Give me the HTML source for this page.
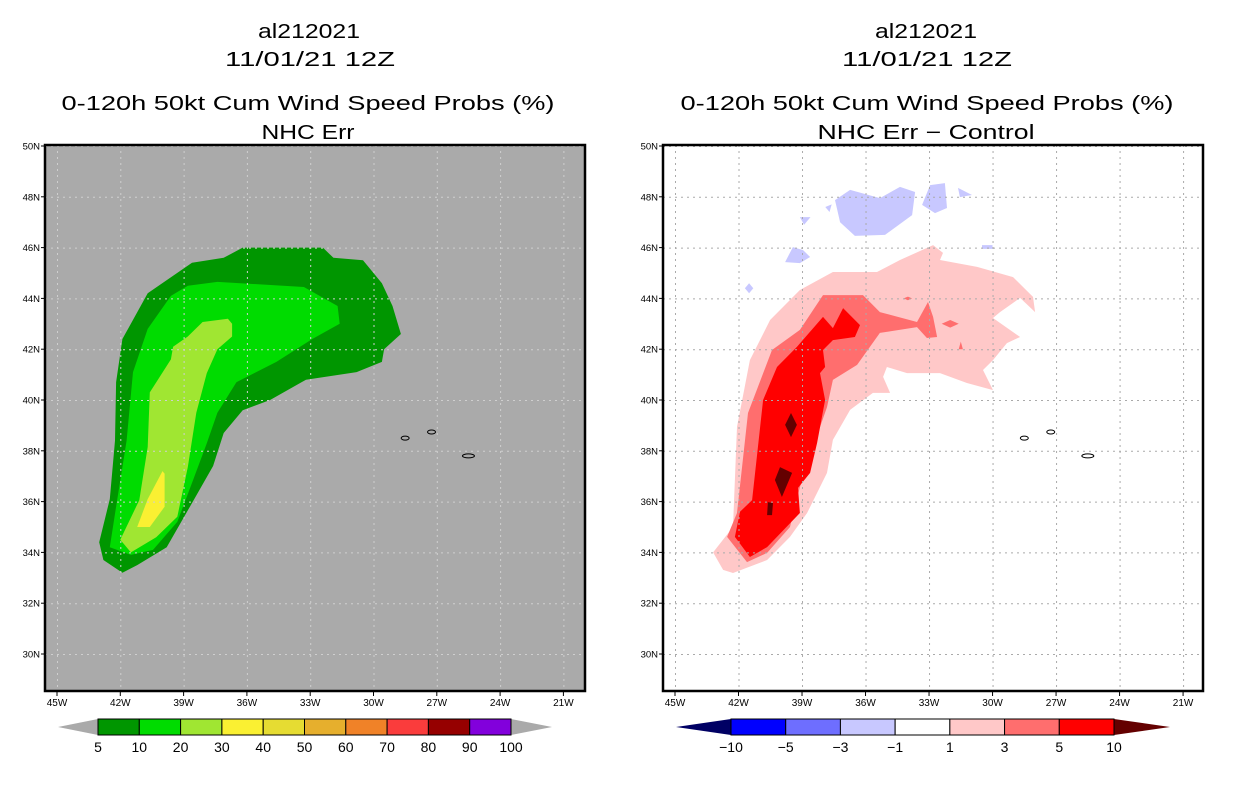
<!DOCTYPE html>
<html><head><meta charset="utf-8"><style>
html,body{margin:0;padding:0;background:#fff;}
svg{display:block;font-family:"Liberation Sans",sans-serif;}
</style></head><body>
<svg id="s" width="1236" height="800" viewBox="0 0 1236 800" xmlns="http://www.w3.org/2000/svg">
<rect width="1236" height="800" fill="#fff"/>
<g font-size="20" text-anchor="middle">
<text x="309" y="38" textLength="102" lengthAdjust="spacingAndGlyphs">al212021</text>
<text x="310" y="66" textLength="170" lengthAdjust="spacingAndGlyphs">11/01/21 12Z</text>
<text x="308" y="110" textLength="493" lengthAdjust="spacingAndGlyphs">0-120h 50kt Cum Wind Speed Probs (%)</text>
<text x="308" y="139" textLength="93" lengthAdjust="spacingAndGlyphs">NHC Err</text>
</g>
<g font-size="20" text-anchor="middle">
<text x="926" y="38" textLength="102" lengthAdjust="spacingAndGlyphs">al212021</text>
<text x="927" y="66" textLength="170" lengthAdjust="spacingAndGlyphs">11/01/21 12Z</text>
<text x="927" y="110" textLength="493" lengthAdjust="spacingAndGlyphs">0-120h 50kt Cum Wind Speed Probs (%)</text>
<text x="926" y="139" textLength="217" lengthAdjust="spacingAndGlyphs">NHC Err − Control</text>
</g>
<g id="L"></g>
<g id="R"></g>
<g id="CL"></g>
<g id="CR"></g>
</svg>
<script>
// ---- data ----
const lonTicks = [-45,-42,-39,-36,-33,-30,-27,-24,-21];
const latTicks = [30,32,34,36,38,40,42,44,46,48,50];
const lonTickLabels = ["45W","42W","39W","36W","33W","30W","27W","24W","21W"];
const latTickLabels = ["30N","32N","34N","36N","38N","40N","42N","44N","46N","48N","50N"];

const prob5 = [[-36.2,46.0],[-32.4,46.0],[-31.9,45.6],[-30.5,45.5],[-29.6,44.6],[-29.1,43.7],[-28.7,42.6],[-29.5,42.0],[-29.6,41.5],[-30.8,41.1],[-33.2,40.8],[-34.9,40.0],[-36.2,39.6],[-37.1,38.7],[-37.6,37.4],[-38.7,35.8],[-39.8,34.2],[-41.2,33.5],[-41.9,33.2],[-42.8,33.7],[-43.0,34.4],[-42.5,36.1],[-42.25,38.4],[-42.2,40.7],[-41.9,42.4],[-40.7,44.2],[-38.6,45.4],[-37.1,45.6]];
const prob10 = [[-37.4,44.65],[-33.3,44.45],[-31.7,43.7],[-31.6,43.0],[-32.9,42.4],[-34.6,41.5],[-36.5,40.7],[-37.4,39.5],[-37.9,38.3],[-38.55,36.85],[-39.3,35.2],[-40.45,34.1],[-41.5,33.9],[-42.5,34.2],[-42.2,35.8],[-41.7,38.4],[-41.4,41.1],[-40.7,42.8],[-39.6,44.1],[-38.8,44.5]];
const prob20 = [[-38.1,43.07],[-36.9,43.2],[-36.7,43.0],[-36.7,42.5],[-37.4,42.0],[-37.9,41.06],[-38.4,39.5],[-38.8,37.36],[-39.3,35.4],[-40.3,34.6],[-41.5,34.0],[-42.0,34.5],[-41.1,36.06],[-40.7,38.15],[-40.6,40.3],[-39.6,41.6],[-39.5,42.1],[-38.8,42.5]];
const prob30 = [[-40.0,37.2],[-39.9,37.1],[-39.9,35.8],[-40.6,35.0],[-41.2,35.0],[-40.7,36.1]];

const diffPos1 = [[-43.2,34.0],[-42.26,35.0],[-42.07,38.94],[-41.46,41.57],[-40.51,43.15],[-39.1,44.33],[-37.54,45.04],[-35.46,45.04],[-34.37,45.51],[-32.81,46.1],[-32.34,45.79],[-32.48,45.51],[-30.73,45.24],[-29.03,44.84],[-28.09,44.06],[-27.99,43.46],[-28.7,44.02],[-29.65,43.46],[-29.98,43.23],[-28.7,42.48],[-29.32,42.24],[-29.98,41.57],[-30.45,41.18],[-29.98,40.39],[-31.21,40.67],[-32.48,41.06],[-34.04,41.06],[-34.99,41.3],[-35.17,40.91],[-34.84,40.28],[-35.65,40.28],[-36.73,39.61],[-37.54,38.43],[-37.82,37.13],[-38.76,35.55],[-39.57,34.61],[-40.65,33.7],[-42.26,33.19],[-42.73,33.31]];
const diffPos3 = [[-42.54,34.61],[-42.07,35.55],[-41.55,39.49],[-40.42,41.97],[-39.1,42.76],[-38.01,44.13],[-36.12,44.13],[-35.32,43.46],[-33.57,43.07],[-33.05,43.86],[-32.81,43.27],[-32.62,42.48],[-33.1,42.44],[-33.57,42.87],[-35.32,42.64],[-36.4,41.38],[-37.54,40.79],[-37.82,39.72],[-38.48,38.15],[-39.1,36.57],[-39.57,35.0],[-40.65,33.98],[-41.6,33.62]];
const diffPos3b = [[-32.4,43.0],[-32.0,43.15],[-31.6,43.0],[-32.0,42.85]];
const diffPos3c = [[-34.2,44.0],[-34.0,44.07],[-33.8,44.0],[-34.0,43.93]];
const diffPos3d = [[-31.6,42.0],[-31.5,42.3],[-31.4,42.0]];
const diffPos5 = [[-42.17,34.61],[-41.93,35.6],[-41.36,36.06],[-40.84,40.0],[-40.18,41.3],[-39.24,42.09],[-38.01,43.27],[-37.54,42.83],[-37.06,43.62],[-36.26,42.95],[-36.5,42.48],[-37.54,42.36],[-38.01,41.97],[-37.91,41.3],[-38.15,41.06],[-37.91,40.0],[-38.29,38.31],[-38.62,37.13],[-39.19,36.54],[-39.1,35.55],[-40.65,34.21],[-41.46,33.82]];
const diffPos10a = [[-39.52,39.49],[-39.24,39.02],[-39.52,38.54],[-39.8,39.02]];
const diffPos10b = [[-40.04,37.36],[-39.47,37.13],[-39.95,36.18],[-40.28,36.85]];
const diffPos10c = [[-40.61,35.98],[-40.37,35.94],[-40.42,35.47],[-40.65,35.47]];
const diffNeg1a = [[-37.44,47.87],[-36.73,48.27],[-35.32,47.95],[-34.37,48.39],[-33.66,48.19],[-33.8,47.28],[-35.08,46.5],[-36.5,46.46],[-37.2,47.0]];
const diffNeg1b = [[-32.95,48.46],[-32.25,48.54],[-32.15,47.56],[-32.72,47.36],[-33.33,47.68]];
const diffNeg1c = [[-31.63,48.35],[-30.97,48.07],[-31.54,47.99]];
const diffNeg1d = [[-39.43,46.02],[-38.95,45.9],[-38.62,45.63],[-39.1,45.39],[-39.8,45.43]];
const diffNeg1e = [[-41.5,44.6],[-41.3,44.4],[-41.5,44.2],[-41.7,44.4]];
const diffNeg1f = [[-30.5,46.1],[-30.0,46.1],[-30.0,45.95],[-30.5,45.95]];
const diffNeg1g = [[-39.1,47.2],[-38.6,47.2],[-38.9,46.9]];
const diffNeg1h = [[-37.9,47.6],[-37.6,47.7],[-37.7,47.4]];

const islandLons = [-28.5,-27.25,-25.5];
const islandLats = [38.5,38.74,37.8];

const leftLevels = [5,10,20,30,40,50,60,70,80,90,100];
const leftColors = ["#009600","#00dc00","#a0e632","#faf032","#e6dc32","#e6af2d","#f08228","#fa3c3c","#960000","#8200dc"];
const rightLevels = [-10,-5,-3,-1,1,3,5,10];
const rightColors = ["#0000ff","#6e6eff","#c8c8ff","#ffffff","#ffc8c8","#ff6e6e","#ff0000"];

// ---- helpers ----
const NS="http://www.w3.org/2000/svg";
function mk(tag,parent,attrs){const e=document.createElementNS(NS,tag);for(const k in attrs)e.setAttribute(k,attrs[k]);parent.appendChild(e);return e;}
const FT=145, FB=691;
function makeProj(x0,lonRef,ppd){return {x:lon=>x0+(lon-lonRef)*ppd, y:lat=>146+(50-lat)*25.4};}
const PL = makeProj(57,-45,21.1);
const PR = makeProj(675,-45,21.17);
function ptsStr(P,arr){return arr.map(p=>P.x(p[0]).toFixed(1)+","+P.y(p[1]).toFixed(1)).join(" ");}
function poly(g,P,arr,fill,name){const e=mk('polygon',g,{points:ptsStr(P,arr),fill:fill});


return e;}

function panel(g,P,fx0,fx1,bg,gridCol,fills){
  const cid='clip'+g.id;
  const cp=mk('clipPath',g,{id:cid});mk('rect',cp,{x:fx0,y:FT,width:fx1-fx0,height:FB-FT});
  const bgr=mk('rect',g,{x:fx0,y:FT,width:fx1-fx0,height:FB-FT,fill:bg});
  
  
  const inner=mk('g',g,{'clip-path':'url(#'+cid+')'});
  fills(inner);
  const gg=mk('g',inner,{stroke:gridCol,'stroke-width':1,'stroke-dasharray':'2,4'});
  
  
  lonTicks.forEach(l=>{mk('line',gg,{x1:P.x(l)+.5,x2:P.x(l)+.5,y1:FT,y2:FB});});
  latTicks.forEach(l=>{mk('line',gg,{x1:fx0,x2:fx1,y1:P.y(l)+.5,y2:P.y(l)+.5});});
  islandLons.forEach((lo,i)=>{const e=mk('ellipse',inner,{cx:P.x(lo),cy:P.y(islandLats[i]),rx:i==2?6:4,ry:2,fill:'none',stroke:'#000','stroke-width':1});
    
    });
  const fr=mk('rect',g,{x:fx0,y:FT,width:fx1-fx0,height:FB-FT,fill:'none',stroke:'#000','stroke-width':2.5});
  
  
  lonTicks.forEach((l,i)=>{mk('line',g,{x1:P.x(l),x2:P.x(l),y1:FB,y2:FB+5,stroke:'#000'});
    const t=mk('text',g,{x:P.x(l),y:FB+15,'font-size':10,'text-anchor':'middle'});t.textContent=lonTickLabels[i];
    
    });
  latTicks.forEach((l,i)=>{mk('line',g,{x1:fx0-4,x2:fx0,y1:P.y(l),y2:P.y(l),stroke:'#000'});
    const t=mk('text',g,{x:fx0-5,y:P.y(l)+3.5,'font-size':9.5,'text-anchor':'end'});t.textContent=latTickLabels[i];
    
    });
}

panel(document.getElementById('L'),PL,45,585,'#aaaaaa','#cfcfcf',g=>{
  poly(g,PL,prob5,leftColors[0],'prob-5-10-contour');
  poly(g,PL,prob10,leftColors[1],'prob-10-20-contour');
  poly(g,PL,prob20,leftColors[2],'prob-20-30-contour');
  poly(g,PL,prob30,leftColors[3],'prob-30-40-contour');
});
panel(document.getElementById('R'),PR,663,1203,'#ffffff','#aaaaaa',g=>{
  poly(g,PR,diffPos1,rightColors[4],'diff-1-3-contour');
  [diffPos3,diffPos3b,diffPos3c,diffPos3d].forEach(a=>poly(g,PR,a,rightColors[5],'diff-3-5-contour'));
  poly(g,PR,diffPos5,rightColors[6],'diff-5-10-contour');
  [diffPos10a,diffPos10b,diffPos10c].forEach(a=>poly(g,PR,a,'#640000','diff-over-10-contour'));
  [diffNeg1a,diffNeg1b,diffNeg1c,diffNeg1d,diffNeg1e,diffNeg1f,diffNeg1g,diffNeg1h].forEach(a=>poly(g,PR,a,rightColors[2],'diff-neg-1-3-contour'));
});

function colorbar(g,levels,colors,x0,x1,tipL,tipR,lowCol,highCol){
  const n=colors.length, w=(x1-x0)/n, yT=719, yB=735, ym=727;
  const tl=mk('polygon',g,{points:`${tipL},${ym} ${x0},${yT} ${x0},${yB}`,fill:lowCol});
  
  
  const tr=mk('polygon',g,{points:`${tipR},${ym} ${x1},${yT} ${x1},${yB}`,fill:highCol});
  
  
  colors.forEach((c,i)=>{const r=mk('rect',g,{x:x0+i*w,y:yT,width:w,height:yB-yT,fill:c,stroke:'#000','stroke-width':1});
    
    });
  levels.forEach((v,i)=>{const t=mk('text',g,{x:x0+i*w,y:752,'font-size':14,'text-anchor':'middle'});
    t.textContent=v<0?('−'+(-v)):String(v);
    
    });
}
colorbar(document.getElementById('CL'),leftLevels,leftColors,98,511,58,552,'#aaaaaa','#aaaaaa');
colorbar(document.getElementById('CR'),rightLevels,rightColors,731,1114,676,1170,'#000064','#640000');
</script>
</body></html>
